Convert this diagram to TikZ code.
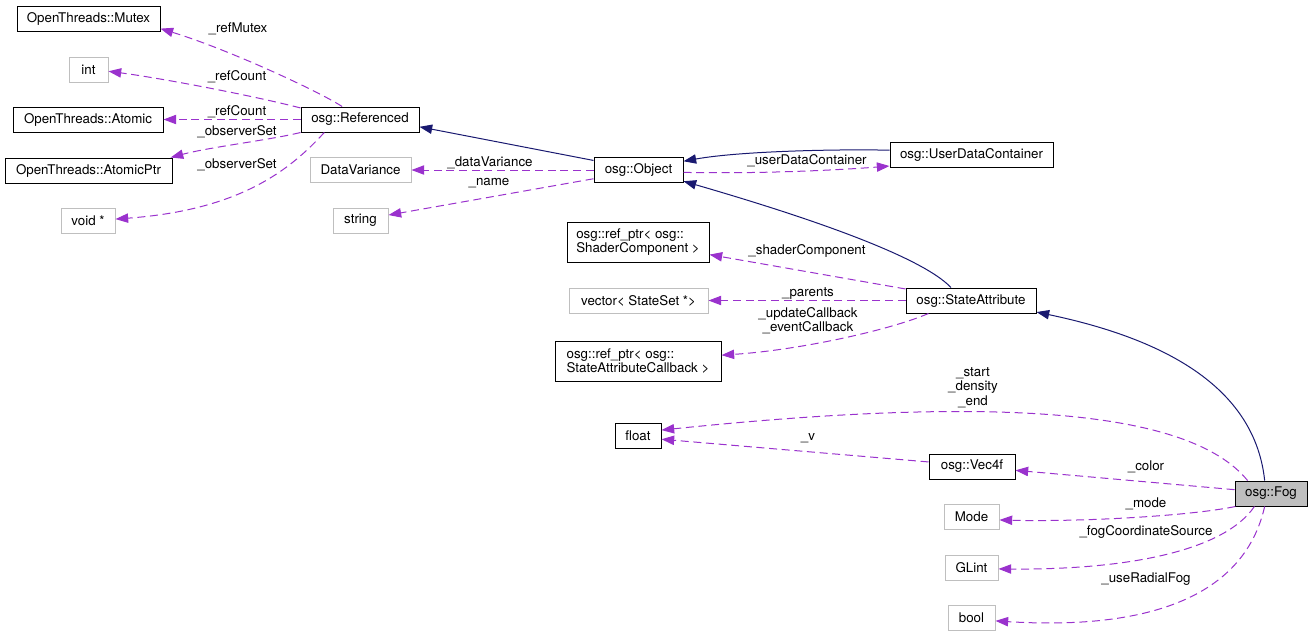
\documentclass[tikz,border=0pt]{standalone}
\usepackage{fontspec}
\setmainfont{TeX Gyre Heros}
\usetikzlibrary{arrows.meta}
\definecolor{dep}{HTML}{9A32CD}
\definecolor{inh}{HTML}{191970}
\definecolor{undoc}{HTML}{BFBFBF}
\begin{document}
\begin{tikzpicture}[x=0.75pt,y=-0.75pt,
  font=\fontsize{10}{10}\selectfont,
  cls/.style={draw=black, line width=0.75pt, inner sep=0pt, minimum height=18.75pt, align=left},
  ext/.style={cls, draw=undoc},
  cur/.style={cls, fill=undoc},
  lbl/.style={inner sep=0pt, align=center, font=\fontsize{10}{10.9}\selectfont},
  use/.style={draw=dep, line width=0.75pt, dash pattern=on 6pt off 3.5pt, -{Triangle[length=9.5pt,width=7pt]}},
  inherit/.style={draw=inh, line width=0.75pt, -{Triangle[length=9.5pt,width=7pt]}},
]
\useasboundingbox (0,0) rectangle (1313,637);
% classes
\node[cls, minimum width=107.25pt] (mutex) at (88.5,18.5) {OpenThreads::Mutex};
\node[ext, minimum width=29.25pt] (int) at (88.5,69.5) {int};
\node[cls, minimum width=112.5pt] (atomic) at (88,119.5) {OpenThreads::Atomic};
\node[cls, minimum width=125.25pt] (aptr) at (88.5,170.5) {OpenThreads::AtomicPtr};
\node[ext, minimum width=40.5pt] (voidp) at (88,220.5) {void *};
\node[cls, minimum width=88.5pt] (ref) at (360,119.5) {osg::Referenced};
\node[ext, minimum width=75.75pt] (dv) at (360.5,170) {DataVariance};
\node[ext, minimum width=41.25pt] (str) at (360.5,220.5) {string};
\node[cls, minimum width=66.75pt] (obj) at (638.5,170) {osg::Object};
\node[cls, minimum width=122.25pt] (udc) at (971.5,154.5) {osg::UserDataContainer};
\node[cls, minimum width=106.5pt, minimum height=30pt] (shc) at (638,242) {osg::ref\_ptr< osg::\\ShaderComponent >};
\node[ext, minimum width=104.25pt] (vec) at (638.5,300.5) {vector< StateSet *>};
\node[cls, minimum width=97.5pt] (sa) at (971,300.5) {osg::StateAttribute};
\node[cls, minimum width=124.5pt, minimum height=30pt] (sacb) at (638,361) {osg::ref\_ptr< osg::\\StateAttributeCallback >};
\node[cls, minimum width=34.5pt] (flt) at (638,435.5) {float};
\node[cls, minimum width=64.5pt] (vec4) at (972,466.5) {osg::Vec4f};
\node[ext, minimum width=41.25pt] (mode) at (971.5,516.5) {Mode};
\node[ext, minimum width=39.75pt] (glint) at (971.5,567.5) {GLint};
\node[ext, minimum width=35.25pt] (bool) at (971.5,617.5) {bool};
\node[cur, minimum width=54pt] (fog) at (1271,493.5) {osg::Fog};
% labels
\node[lbl] (l1) at (238,29) {\_refMutex};
\node[lbl] (l2) at (237,77) {\_refCount};
\node[lbl] (l3) at (237,112) {\_refCount};
\node[lbl] (l4) at (237,132) {\_observerSet};
\node[lbl] (l5) at (237,165) {\_observerSet};
\node[lbl] (l6) at (490,163) {\_dataVariance};
\node[lbl] (l7) at (489,183) {\_name};
\node[lbl] (l8) at (807,161) {\_userDataContainer};
\node[lbl] (l9) at (807,251) {\_shaderComponent};
\node[lbl] (l10) at (808,293) {\_parents};
\node[lbl] (l11) at (808,320.5) {\_updateCallback\\\_eventCallback};
\node[lbl] (l12) at (973,387.5) {\_start\\\_density\\\_end};
\node[lbl] (l13) at (808,438) {\_v};
\node[lbl] (l14) at (1146,467) {\_color};
\node[lbl] (l15) at (1146,504) {\_mode};
\node[lbl] (l16) at (1146,532) {\_fogCoordinateSource};
\node[lbl] (l17) at (1146,579) {\_useRadialFog};
% edges
\draw[use] (ref.144) .. controls (320,92) and (230,50) .. (mutex.-8);
\draw[use] (ref.169) .. controls (250,95) and (160,78) .. (int.-5);
\draw[use] (ref.west) -- (atomic.east);
\draw[use] (ref.south west) .. controls (270,140) and (210,147) .. (aptr.9);
\draw[use] (ref.200) .. controls (290,170) and (240,210) .. (voidp.3);
\draw[inherit] (obj.168) -- (ref.-7);
\draw[use] (obj.west) -- (dv.east);
\draw[use] (obj.191) -- (str.11);
\draw[inherit] (udc.177) .. controls (840,149) and (740,151) .. (obj.11);
\draw[use] (obj.-3) .. controls (760,174) and (840,170) .. (udc.188);
\draw[inherit] (sa.147) .. controls (920,255) and (800,215) .. (obj.-14);
\draw[use] (sa.170) -- (shc.-10);
\draw[use] (sa.west) -- (vec.east);
\draw[use] (sa.197) .. controls (890,330) and (800,350) .. (sacb.4);
\draw[inherit] (fog.116) .. controls (1255,390) and (1170,340) .. (sa.-10);
\draw[use] (fog.151) .. controls (1190,410) and (1000,395) .. (flt.13);
\draw[use] (vec4.174) -- (flt.-9);
\draw[use] (fog.174) -- (vec4.-5);
\draw[use] (fog.200) .. controls (1190,516) and (1080,522) .. (mode.-7);
\draw[use] (fog.218) .. controls (1225,550) and (1130,570) .. (glint.-3);
\draw[use] (fog.244) .. controls (1240,615) and (1110,628) .. (bool.-8);
\end{tikzpicture}
\end{document}
